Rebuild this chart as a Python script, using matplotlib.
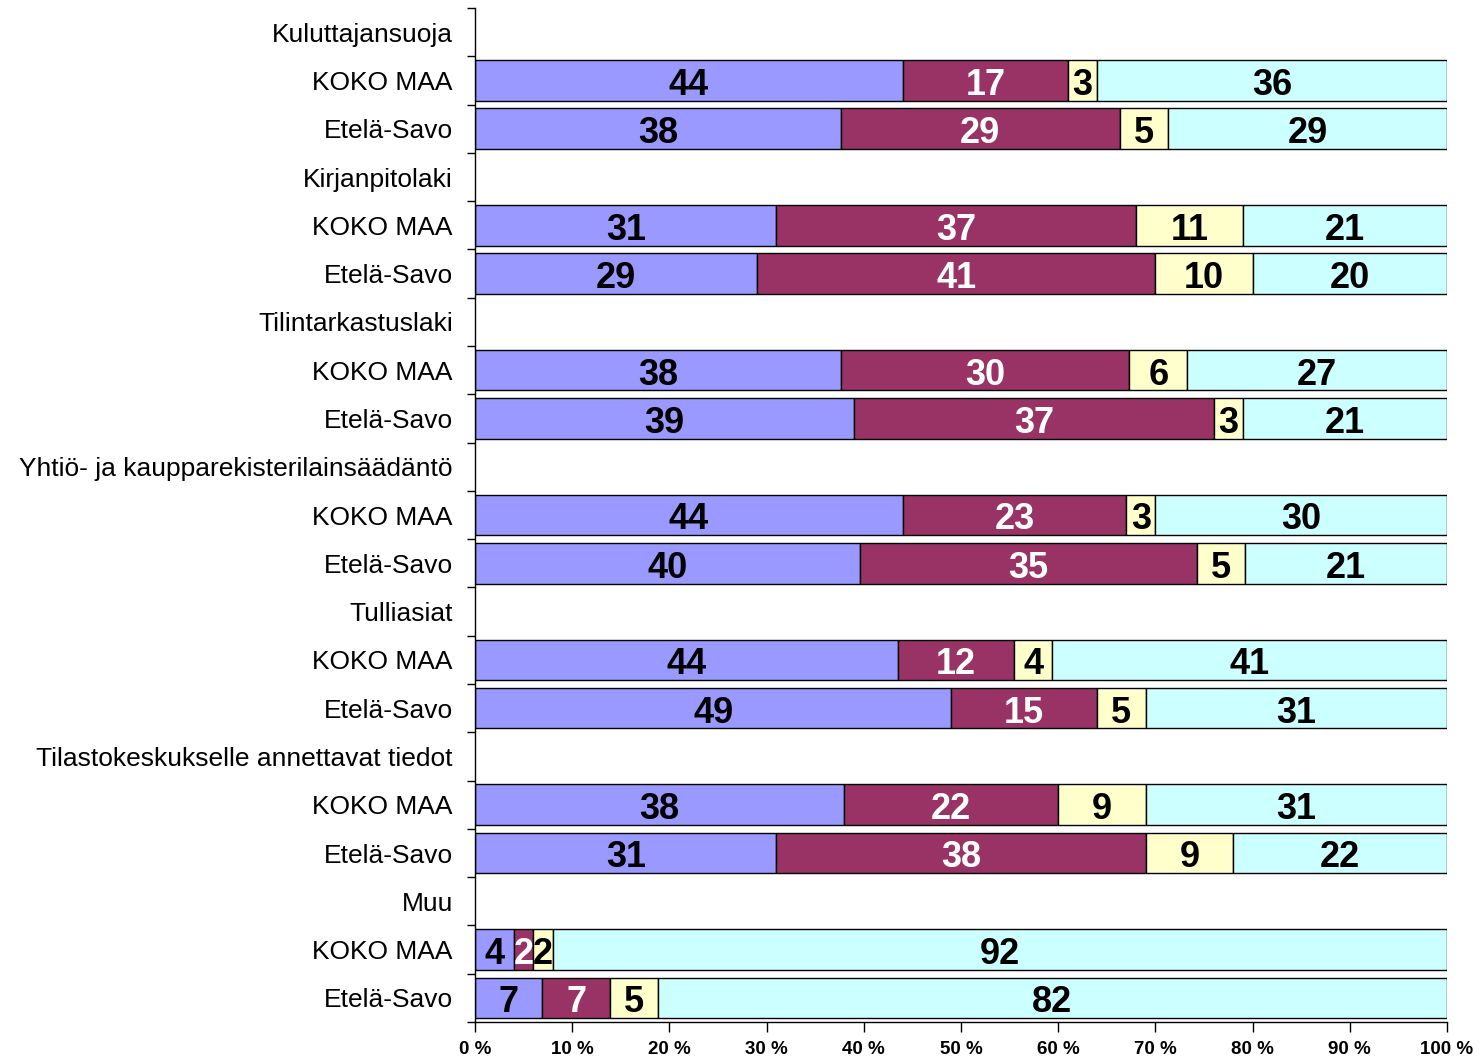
#!/usr/bin/env python3
"""100 % stacked horizontal bars: KOKO MAA vs Etelä-Savo per legislation topic."""

import matplotlib

matplotlib.use("Agg")
import matplotlib.pyplot as plt  # noqa: E402
import numpy as np  # noqa: E402
from matplotlib.ticker import FixedLocator, NullFormatter  # noqa: E402


topics = [
    "Kuluttajansuoja",
    "Kirjanpitolaki",
    "Tilintarkastuslaki",
    "Yhtiö- ja kaupparekisterilainsäädäntö",
    "Tulliasiat",
    "Tilastokeskukselle annettavat tiedot",
    "Muu",
]
regions = ["KOKO MAA", "Etelä-Savo"]

# one value per (topic, region), in topic order: KOKO MAA first, then Etelä-Savo
part1 = [44, 38, 31, 29, 38, 39, 44, 40, 44, 49, 38, 31, 4, 7]
part2 = [17, 29, 37, 41, 30, 37, 23, 35, 12, 15, 22, 38, 2, 7]
part3 = [3, 5, 11, 10, 6, 3, 3, 5, 4, 5, 9, 9, 2, 5]
part4 = [36, 29, 21, 20, 27, 21, 30, 21, 41, 31, 31, 22, 92, 82]

colors = ["#9999FF", "#993366", "#FFFFCC", "#CCFFFF"]
text_colors = ["black", "white", "black", "black"]
x_ticks = list(range(0, 101, 10))

plt.rcParams["font.family"] = ["Liberation Sans", "DejaVu Sans"]


def main():
    fig = plt.figure(figsize=(14.79, 10.58), dpi=100)
    ax = fig.add_axes([0.3212, 0.034, 0.6572, 0.9584])

    n_rows = len(topics) * 3
    row_labels = []
    for t in topics:
        row_labels.extend([t] + regions)

    bar_rows = [3 * i + 1 + j for i in range(len(topics)) for j in range(len(regions))]
    data = np.array([part1, part2, part3, part4], dtype=float)
    shares = data / data.sum(axis=0) * 100.0

    left = np.zeros(len(bar_rows))
    for k in range(4):
        ax.barh(bar_rows, shares[k], left=left, height=0.84, color=colors[k],
                edgecolor="black", linewidth=1.0)
        for r, l, w, v in zip(bar_rows, left, shares[k], data[k]):
            ax.text(l + w / 2, r + 0.1, f"{int(v)}", ha="center", va="center",
                    fontsize=26, fontweight="bold", color=text_colors[k])
        left += shares[k]

    ax.set_xlim(0, 100)
    ax.set_ylim(n_rows - 0.5, -0.5)

    ax.set_xticks(x_ticks)
    ax.set_xticklabels([f"{v} %" for v in x_ticks], fontsize=13.5, fontweight="bold")
    ax.tick_params(axis="x", direction="out", length=7, width=1, pad=7)

    ax.yaxis.set_major_locator(FixedLocator(np.arange(-0.5, n_rows, 1.0)))
    ax.yaxis.set_major_formatter(NullFormatter())
    ax.set_yticks(np.arange(n_rows), minor=True)
    ax.set_yticklabels(row_labels, minor=True, fontsize=19)
    ax.tick_params(axis="y", which="major", direction="out", length=6, width=1)
    ax.tick_params(axis="y", which="minor", length=0, pad=16)

    for side in ("top", "right"):
        ax.spines[side].set_visible(False)
    ax.spines["left"].set_linewidth(1)
    ax.spines["bottom"].set_linewidth(1)

    fig.savefig("out.png")
    plt.close(fig)


if __name__ == "__main__":
    main()
